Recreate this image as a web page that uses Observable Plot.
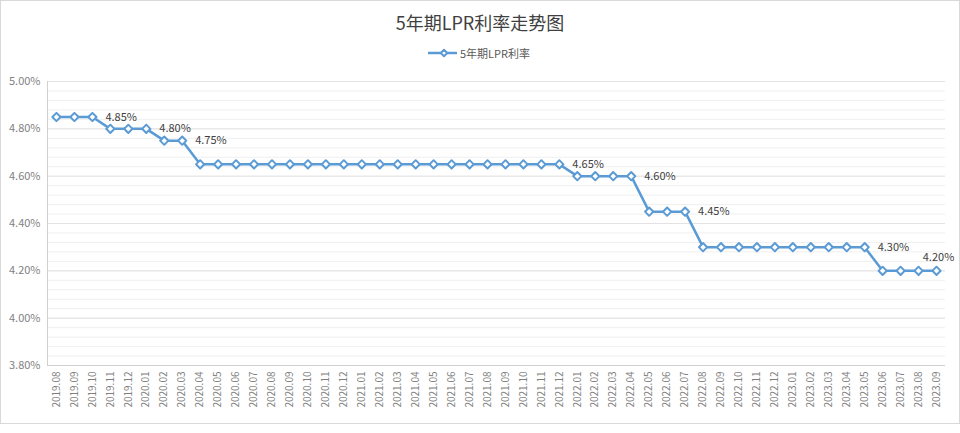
<!DOCTYPE html>
<html><head><meta charset="utf-8">
<script src="https://cdn.jsdelivr.net/npm/d3@7"></script>
<script src="https://cdn.jsdelivr.net/npm/@observablehq/plot@0.6"></script>
<style>
body{margin:0;background:#fff;font-family:"Noto Sans CJK SC","Noto Sans",sans-serif;}
#chart{position:relative;width:960px;height:433px;overflow:hidden;}
#frame{position:absolute;left:0;top:0;width:958px;height:422px;border:1px solid #d9d9d9;pointer-events:none;}
#title{position:absolute;left:0;top:9px;width:960px;text-align:center;font-size:18px;color:#404040;line-height:26px;}
#legend{position:absolute;left:428px;top:45px;height:16px;display:flex;align-items:center;font-size:11px;color:#595959;}
#legend svg{margin-right:2px;}
#plot{position:absolute;left:0;top:65px;}
</style>
</head><body>
<div id="chart">
  <div id="frame"></div>
  <div id="title">5年期LPR利率走势图</div>
  <div id="legend"><svg width="30" height="10"><line x1="0" y1="5" x2="29" y2="5" stroke="#5b9bd5" stroke-width="2.5"/><path d="M16,1.8 L19.2,5 L16,8.2 L12.8,5 Z" fill="#fff" stroke="#5b9bd5" stroke-width="2" stroke-linejoin="round"/></svg><span>5年期LPR利率</span></div>
  <div id="plot"></div>
</div>
<script>
const months = ["2019.08","2019.09","2019.10","2019.11","2019.12",
"2020.01","2020.02","2020.03","2020.04","2020.05","2020.06","2020.07","2020.08","2020.09","2020.10","2020.11","2020.12",
"2021.01","2021.02","2021.03","2021.04","2021.05","2021.06","2021.07","2021.08","2021.09","2021.10","2021.11","2021.12",
"2022.01","2022.02","2022.03","2022.04","2022.05","2022.06","2022.07","2022.08","2022.09","2022.10","2022.11","2022.12",
"2023.01","2023.02","2023.03","2023.04","2023.05","2023.06","2023.07","2023.08","2023.09"];
const rates = [4.85,4.85,4.85,4.80,4.80,
4.80,4.75,4.75,4.65,4.65,4.65,4.65,4.65,4.65,4.65,4.65,4.65,
4.65,4.65,4.65,4.65,4.65,4.65,4.65,4.65,4.65,4.65,4.65,4.65,
4.60,4.60,4.60,4.60,4.45,4.45,4.45,4.30,4.30,4.30,4.30,4.30,
4.30,4.30,4.30,4.30,4.30,4.20,4.20,4.20,4.20];
const labelRightMonths = ["2019.10","2020.01","2020.03","2021.12","2022.04","2022.07","2023.05"];
const labelAboveMonths = ["2023.09"];
const majorTicks = [3.8,4.0,4.2,4.4,4.6,4.8,5.0];
const minorTicks = d3.range(0,31).map(i => +(3.8 + i*0.04).toFixed(2));

const data = months.map((m,i) => ({month:m, rate:rates[i]}));
const fmt = d => d.toFixed(2) + "%";
const labelsRight = data.filter(d => labelRightMonths.includes(d.month));
const labelsAbove = data.filter(d => labelAboveMonths.includes(d.month));
const blue = "#5b9bd5";

const chart = Plot.plot({
  width: 960, height: 368,
  marginTop: 16, marginBottom: 68, marginLeft: 47, marginRight: 15,
  style: {fontFamily: '"Noto Sans CJK SC","Noto Sans",sans-serif', background: "transparent"},
  x: {type: "point", domain: months, padding: 0.5},
  y: {domain: [3.8, 5.0]},
  marks: [
    Plot.ruleY(minorTicks, {stroke: "#efefef", strokeWidth: 1}),
    Plot.ruleY(majorTicks, {stroke: "#e3e3e3", strokeWidth: 1}),
    Plot.ruleY([3.8], {stroke: "#d0d0d0", strokeWidth: 1}),
    Plot.frame({anchor: "left", stroke: "#d0d0d0"}),
    Plot.axisY(majorTicks, {tickSize: 0, tickPadding: 7, tickFormat: fmt, fill: "#7f7f7f", fontSize: 11, label: null}),
    Plot.axisX({tickSize: 0, tickRotate: -90, tickPadding: 6, fill: "#7f7f7f", fontSize: 10, label: null}),
    Plot.line(data, {x: "month", y: "rate", stroke: blue, strokeWidth: 2.5}),
    Plot.dot(data, {x: "month", y: "rate", symbol: "square", rotate: 45, r: 3.3, fill: "white", stroke: blue, strokeWidth: 2, strokeLinejoin: "round"}),
    Plot.text(labelsRight, {x: "month", y: "rate", text: d => fmt(d.rate), textAnchor: "start", dx: 13, fill: "#404040", fontSize: 11}),
    Plot.text(labelsAbove, {x: "month", y: "rate", text: d => fmt(d.rate), textAnchor: "middle", dx: 2, dy: -13, fill: "#404040", fontSize: 11})
  ]
});
document.getElementById("plot").appendChild(chart);
</script>
</body></html>
